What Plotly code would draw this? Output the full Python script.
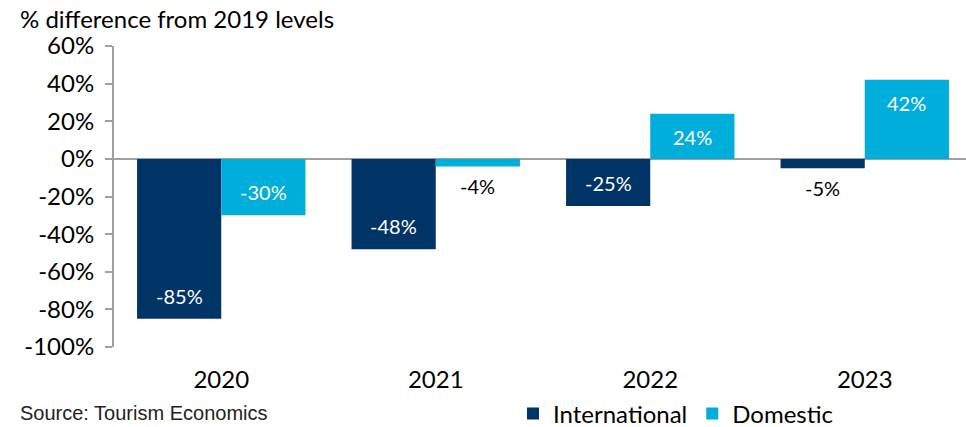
import plotly.graph_objects as go

years = ["2020", "2021", "2022", "2023"]
international = [-85, -48, -25, -5]
domestic = [-30, -4, 24, 42]
tick_vals = [60, 40, 20, 0, -20, -40, -60, -80, -100]
tick_text = ["60%", "40%", "20%", "0%", "-20%", "-40%", "-60%", "-80%", "-100%"]

NAVY = "#003366"
CYAN = "#00AEDB"
FONT = "Lato"

PLOT_W, PLOT_H = 852, 301
BAR_HALF = 42  # pixel offset from category centre to each bar's centre

fig = go.Figure()
for name, vals, color in [("International", international, NAVY), ("Domestic", domestic, CYAN)]:
    fig.add_trace(go.Bar(x=years, y=vals, name=name, marker_color=color, marker_line_width=0))

# value labels: inside the bar end for long bars (white), just beyond the end for short ones (black)
annotations = []
for vals, xshift in [(international, -BAR_HALF), (domestic, BAR_HALF)]:
    for i, v in enumerate(vals):
        inside = abs(v) >= 10
        sign = 1 if v >= 0 else -1
        yshift = -sign * 23 if inside else sign * 20
        annotations.append(dict(
            x=i, y=v, xref="x", yref="y", text=f"{v}%", showarrow=False,
            xshift=xshift, yshift=yshift, xanchor="center", yanchor="middle",
            font=dict(family=FONT, size=20, color="white" if inside else "black"),
        ))

annotations += [
    dict(text="% difference from 2019 levels", xref="paper", yref="paper",
         x=(18 - 114) / PLOT_W, y=1 + 27 / PLOT_H, xanchor="left", yanchor="middle",
         showarrow=False, font=dict(family=FONT, size=24, color="black")),
    dict(text="Source: Tourism Economics", xref="paper", yref="paper",
         x=-96 / PLOT_W, y=-79 / PLOT_H, xanchor="left", yanchor="bottom",
         showarrow=False, font=dict(family="Liberation Sans", size=20, color="#222222")),
]

fig.update_layout(
    width=966, height=427,
    margin=dict(l=114, r=0, t=46, b=80, autoexpand=False),
    paper_bgcolor="white", plot_bgcolor="white",
    barmode="group", bargap=0.215, bargroupgap=0,
    font=dict(family=FONT, size=20, color="black"),
    showlegend=True,
    legend=dict(orientation="h", x=(513 - 114) / PLOT_W, y=-67 / PLOT_H,
                xanchor="left", yanchor="middle",
                font=dict(family=FONT, size=24, color="black"),
                itemwidth=30, traceorder="normal"),
    xaxis=dict(type="category", range=[-0.5, 3.472], showline=False, ticks="", showgrid=False,
               tickfont=dict(family=FONT, size=24, color="black"), ticklabelstandoff=16),
    yaxis=dict(range=[-100, 60], tickvals=tick_vals, ticktext=tick_text,
               showgrid=False, showline=True, linecolor="#A0A0A0", linewidth=2,
               ticks="outside", ticklen=7, tickcolor="#A0A0A0", tickwidth=2,
               zeroline=True, zerolinecolor="#A0A0A0", zerolinewidth=2,
               tickfont=dict(family=FONT, size=24, color="black"), ticklabelstandoff=6),
    annotations=annotations,
)

fig.write_html("out.html")
